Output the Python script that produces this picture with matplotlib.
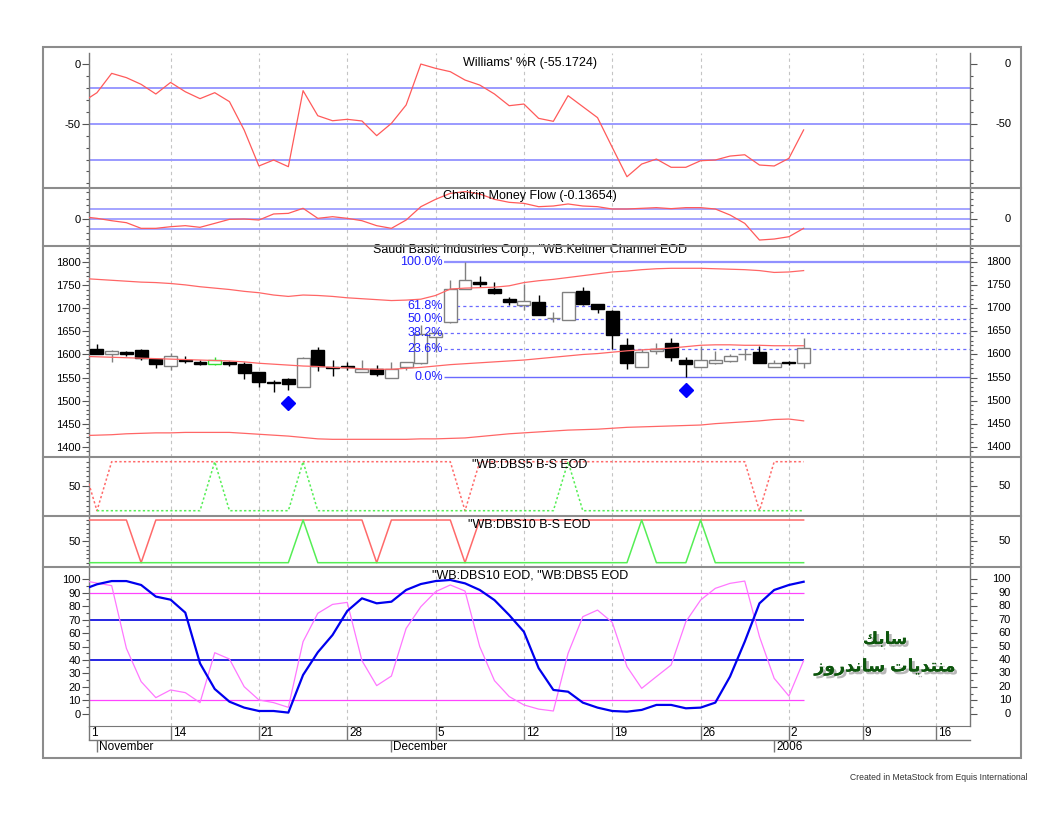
import numpy as np
import matplotlib
matplotlib.use('Agg')
import matplotlib.pyplot as plt
import matplotlib.patheffects as pe
from matplotlib.lines import Line2D
from matplotlib.patches import Rectangle

plt.rcParams['font.family'] = ['Liberation Sans', 'DejaVu Sans']
plt.rcParams['axes.unicode_minus'] = False

# x = trading-day index, 0 = 1 Nov 2005 ... 48 = 3 Jan 2006
# indicator series also carry the day before the first bar (-1)
ind_x = np.arange(-1, 49)
bar_x = np.arange(0, 49)

day_pos = [-0.52, 5, 11, 17, 23, 29, 35, 41, 47, 52, 57]
day_labels = ['1', '14', '21', '28', '5', '12', '19', '26', '2', '9', '16']
month_pos = [0, 20, 46]
month_labels = ['November', 'December', '2006']

# Williams' %R
willr = [-32, -24.0, -7.8, -11.4, -17.0, -25.1, -15.4, -23.2, -29.0, -24.0,
         -31.5, -55.3, -85.4, -80.4, -86.0, -22.3, -43.3, -47.5, -46.3, -47.7,
         -60.0, -49.7, -34.3, 0.0, -3.6, -6.4, -13.4, -17.6, -25.1, -34.9,
         -33.5, -45.5, -48.0, -26.5, -35.7, -44.9, -69.8, -94.4, -83.8, -79.6,
         -86.5, -86.5, -81.0, -80.4, -77.1, -76.0, -84.6, -85.4, -79.0, -55.2]
willr_levels = [-20, -50, -80]

# Chaikin Money Flow
cmf = [0.034, 0.010, -0.025, -0.054, -0.137, -0.137, -0.113, -0.098, -0.122, -0.064,
       -0.005, 0.0, -0.015, 0.074, 0.083, 0.157, 0.010, 0.034, 0.010, -0.025,
       -0.098, -0.137, -0.015, 0.181, 0.289, 0.377, 0.402, 0.368, 0.289, 0.245,
       0.230, 0.181, 0.191, 0.221, 0.191, 0.181, 0.147, 0.147, 0.157, 0.167,
       0.152, 0.167, 0.167, 0.147, 0.059, -0.064, -0.309, -0.294, -0.260, -0.137]
cmf_levels = [0.15, 0.0, -0.15]

# prices
opens = [1613, 1601, 1606, 1609, 1590, 1575, 1589, 1584, 1579, 1584,
         1579, 1561, 1540, 1546, 1530, 1610, 1572, 1576, 1563, 1568,
         1550, 1572, 1581, 1638, 1670, 1743, 1758, 1743, 1720, 1707,
         1714, 1679.5, 1675, 1738, 1709, 1695, 1620, 1573, 1608, 1624,
         1589, 1572, 1581, 1586, 1600, 1605, 1572, 1583, 1581]
highs = [1622, 1609, 1608, 1613, 1591, 1604, 1597, 1589, 1594, 1586,
         1583, 1563, 1545, 1550, 1595, 1617, 1589, 1584, 1587, 1577,
         1584, 1584, 1664, 1650, 1762, 1801, 1771, 1758, 1724, 1754,
         1730, 1693, 1735, 1746, 1710, 1696, 1636, 1613, 1624, 1635,
         1595, 1619, 1607, 1601, 1611, 1619, 1587, 1586, 1635]
lows = [1601, 1583, 1597, 1587, 1570, 1566, 1581, 1577, 1577, 1575,
        1547, 1530, 1519, 1523, 1529, 1564, 1554, 1566, 1563, 1553,
        1550, 1566, 1580, 1606, 1668, 1743, 1746, 1732, 1707, 1696,
        1685, 1671, 1674, 1707, 1691, 1611, 1568, 1573, 1600, 1586,
        1552, 1572, 1580, 1584, 1589, 1582, 1572, 1577, 1571]
closes = [1602, 1608, 1602, 1592, 1579, 1596, 1585, 1580, 1589, 1579,
          1560, 1540, 1539, 1535, 1592, 1574, 1571, 1572, 1569, 1558,
          1568, 1583, 1644, 1646, 1743, 1762, 1753, 1733, 1714, 1715,
          1686, 1680, 1735, 1709, 1698, 1642, 1581, 1606, 1611, 1595,
          1579, 1589, 1589, 1597, 1600.5, 1582, 1581, 1582, 1615]
green_bar = 8

kc_upper = [1765, 1763, 1761, 1759, 1757, 1756, 1754, 1751, 1747, 1744,
            1741, 1737, 1734, 1729, 1726, 1729, 1728, 1726, 1723, 1721,
            1719, 1717, 1718, 1720, 1728, 1742, 1744, 1745, 1746, 1749,
            1756, 1760, 1763, 1767, 1771, 1775, 1779, 1781, 1784, 1786,
            1787, 1787, 1787, 1786, 1785, 1784, 1782, 1778, 1779, 1782]
kc_mid = [1596, 1595, 1594, 1593, 1592, 1591, 1590, 1589, 1588, 1587,
          1586, 1584, 1581, 1579, 1577, 1575, 1574, 1572, 1571, 1569,
          1568, 1568, 1570, 1572, 1575, 1578, 1580, 1582, 1584, 1586,
          1588, 1591, 1594, 1597, 1600, 1602, 1605, 1608, 1610, 1612,
          1614, 1617, 1620, 1621, 1621, 1620, 1620, 1619, 1619, 1619]
kc_lower = [1424, 1425, 1426, 1428, 1429, 1430, 1430, 1431, 1431, 1431,
            1431, 1429, 1427, 1425, 1423, 1420, 1417, 1416, 1416, 1416,
            1416, 1416, 1416, 1417, 1417, 1418, 1419, 1422, 1425, 1428,
            1430, 1432, 1434, 1436, 1437, 1438, 1440, 1442, 1443, 1444,
            1445, 1446, 1447, 1450, 1452, 1454, 1456, 1459, 1460, 1456]

signal_x = [13, 40]
signal_y = [1495, 1523]

fib_labels = ['100.0%', '61.8%', '50.0%', '38.2%', '23.6%', '0.0%']
fib_levels = [1801, 1706, 1677, 1647, 1611, 1552]

# DBS5 B-S
dbs5_sell = [100, 0, 100, 100, 100, 100, 100, 100, 100, 100,
             100, 100, 100, 100, 100, 100, 100, 100, 100, 100,
             100, 100, 100, 100, 100, 100, 0, 100, 100, 100,
             100, 100, 100, 100, 100, 100, 100, 100, 100, 100,
             100, 100, 100, 100, 100, 100, 0, 100, 100, 100]
dbs5_buy = [np.nan, 0, 0, 0, 0, 0, 0, 0, 0, 100,
            0, 0, 0, 0, 0, 100, 0, 0, 0, 0,
            0, 0, 0, 0, 0, 0, 0, 0, 0, 0,
            0, 0, 0, 100, 0, 0, 0, 0, 0, 0,
            0, 0, 0, 0, 0, 0, 0, 0, 0, 0]
# DBS10 B-S
dbs10_sell = [100, 100, 100, 100, 0, 100, 100, 100, 100, 100,
              100, 100, 100, 100, 100, 100, 100, 100, 100, 100,
              0, 100, 100, 100, 100, 100, 0, 100, 100, 100,
              100, 100, 100, 100, 100, 100, 100, 100, 100, 100,
              100, 100, 100, 100, 100, 100, 100, 100, 100, 100]
dbs10_buy = [0, 0, 0, 0, 0, 0, 0, 0, 0, 0,
             0, 0, 0, 0, 0, 100, 0, 0, 0, 0,
             0, 0, 0, 0, 0, 0, 0, 0, 0, 0,
             0, 0, 0, 0, 0, 0, 0, 0, 100, 0,
             0, 0, 100, 0, 0, 0, 0, 0, 0, 0]

# DBS10 / DBS5 oscillators
dbs10 = [92, 96.1, 98.5, 98.5, 95.6, 87.0, 84.7, 75.1, 37.5, 18.5,
         9.1, 4.7, 2.2, 2.2, 1.0, 28.9, 45.7, 58.5, 76.3, 85.7,
         82.0, 83.2, 91.9, 96.3, 98.5, 99.3, 96.8, 91.9, 84.4, 73.3,
         60.9, 34, 17.8, 16.5, 8.4, 4.7, 2.2, 1.7, 3.0, 6.7,
         6.7, 4.2, 4.7, 8.4, 27.7, 53.6, 82.0, 91.9, 95.6, 98.0]
dbs5 = [99, 97, 95.1, 48.6, 24.0, 12.1, 17.8, 15.8, 8.4, 45.4,
        40.7, 20.2, 10.4, 8.4, 4.9, 53.6, 74.6, 81.2, 82.7, 39.5,
        21.0, 28.1, 63.4, 79.5, 90.6, 95.6, 91.1, 49.9, 24.7, 12.9,
        6.7, 3.6, 2.2, 44.9, 72.1, 77.0, 67.9, 35.1, 19.0, 27.7,
        36.3, 68.4, 84.4, 93.1, 96.8, 98.5, 57.3, 26.4, 13.3, 39.5]
osc_blue_levels = [70, 40]
osc_pink_levels = [90, 10]

# ---------------- layout ----------------
W, H = 1060, 816
fig = plt.figure(figsize=(W / 100, H / 100), dpi=100)
fig.patch.set_facecolor('white')

x_left, x_right = 89.3, 970.0
edges = [(53.3, 188.3), (188.3, 245.7), (245.7, 456.7),
         (456.7, 515.7), (515.7, 567.3), (567.3, 725.7)]
axes = []
for top, bot in edges:
    ax = fig.add_axes([x_left / W, 1 - bot / H, (x_right - x_left) / W, (bot - top) / H],
                      sharex=axes[0] if axes else None)
    axes.append(ax)
ax_w, ax_cmf, ax_p, ax_d5, ax_d10, ax_osc = axes

GRID = '#c4c4c4'
TICK = '#555555'
r_off = 1 + 41 / (x_right - x_left)


def style(ax, ylim, major, minor, labels, title, title_y):
    ax.set_xlim(-0.52, 59.3)
    ax.set_ylim(*ylim)
    ax.set_yticks(major)
    ax.set_yticklabels(labels)
    ax.set_yticks(minor, minor=True)
    ax.tick_params(axis='y', which='both', direction='out', left=True, right=True,
                   color=TICK, width=0.8, labelsize=8, pad=1.2)
    ax.tick_params(axis='y', which='major', length=5)
    ax.tick_params(axis='y', which='minor', length=2.5)
    ax.tick_params(axis='x', which='both', bottom=False, labelbottom=False)
    for v, s in zip(major, labels):
        ax.text(r_off, v, s, transform=ax.get_yaxis_transform(), ha='right',
                va='center', fontsize=8, clip_on=False)
    for s in ['top', 'bottom']:
        ax.spines[s].set_visible(False)
    for s in ['left', 'right']:
        ax.spines[s].set_color('#777777')
        ax.spines[s].set_linewidth(1)
    ax.set_xticks(day_pos)
    ax.grid(True, axis='x', color=GRID, lw=0.8, ls=(0, (3, 3)))
    ax.text(0.5, title_y, title, transform=ax.transAxes, ha='center', va='center',
            fontsize=9, zorder=6)


# Williams %R
style(ax_w, (-104.1, 9.0), [0, -50], np.arange(-100, 10, 10), ['0', '-50'],
      "Williams' %R (-55.1724)", 0.93)
for lv in willr_levels:
    ax_w.axhline(lv, color='#9a9aff', lw=1.4, zorder=2)
ax_w.plot(ind_x, willr, color='#ff5a5a', lw=0.9, zorder=3)

# Chaikin Money Flow
style(ax_cmf, (-0.392, 0.451), [0], np.arange(-0.3, 0.45, 0.1), ['0'],
      'Chaikin Money Flow (-0.13654)', 0.86)
for lv in cmf_levels:
    ax_cmf.axhline(lv, color='#8c8cff', lw=1.1, zorder=2)
ax_cmf.plot(ind_x, cmf, color='#ff5a5a', lw=0.9, zorder=3)

# price + Keltner + Fibonacci
style(ax_p, (1378.3, 1836), list(range(1400, 1801, 50)), np.arange(1380, 1836, 10),
      [str(v) for v in range(1400, 1801, 50)],
      'Saudi Basic Industries Corp., "WB:Keltner Channel EOD', 0.979)
o = np.array(opens, float)
c = np.array(closes, float)
up = c >= o
wick_col = ['#808080' if u else 'black' for u in up]
face = ['white' if u else 'black' for u in up]
edge = ['#808080' if u else 'black' for u in up]
edge[green_bar] = '#33dd33'
wick_col[green_bar] = '#33dd33'
ax_p.vlines(bar_x, lows, highs, colors=wick_col, lw=1, zorder=3)
ax_p.bar(bar_x, np.abs(c - o), bottom=np.minimum(o, c), width=0.88, color=face,
         edgecolor=edge, lw=1, zorder=4)
for band in (kc_upper, kc_mid, kc_lower):
    ax_p.plot(ind_x, band, color='#ff6666', lw=0.9, zorder=5)
ax_p.plot(signal_x, signal_y, ls='none', marker='D', ms=7, color='#0000ff', zorder=6)
fib_start = 23.6
for lab, lv in zip(fib_labels, fib_levels):
    if lab in ('100.0%', '0.0%'):
        ax_p.hlines(lv, fib_start, 59.3, colors='#9090ff' if lab == '100.0%' else '#6a6aff',
                    lw=1.6 if lab == '100.0%' else 1.0, zorder=2)
    else:
        ax_p.hlines(lv, fib_start, 59.3, colors='#6a6aff', lw=0.9,
                    linestyles=(0, (2.5, 2.5)), zorder=2)
    ax_p.text(fib_start - 0.1, lv, lab, ha='right', va='center', fontsize=9,
              color='#2020ff', zorder=7)

# DBS5 B-S
style(ax_d5, (-10.2, 110.2), [50], np.arange(0, 101, 10), ['50'], '"WB:DBS5 B-S EOD', 0.859)
ax_d5.plot(ind_x, dbs5_sell, color='#ff6a6a', lw=1.1, ls=(0, (1.5, 1.5)), zorder=3)
ax_d5.plot(ind_x, dbs5_buy, color='#55ee55', lw=1.1, ls=(0, (1.5, 1.5)), zorder=3)

# DBS10 B-S
style(ax_d10, (-10.8, 110.1), [50], np.arange(0, 101, 10), ['50'], '"WB:DBS10 B-S EOD', 0.82)
ax_d10.plot(ind_x, dbs10_sell, color='#ff6a6a', lw=1.1, zorder=3)
ax_d10.plot(ind_x, dbs10_buy, color='#55ee55', lw=1.1, zorder=3)

# DBS10 / DBS5 oscillators
style(ax_osc, (-8.7, 108.7), list(range(0, 101, 10)), np.arange(0, 101, 5),
      [str(v) for v in range(0, 101, 10)], '"WB:DBS10 EOD, "WB:DBS5 EOD', 0.951)
ax_osc.hlines(osc_pink_levels, ind_x[0], ind_x[-1], colors='#ff44ff', lw=0.9, zorder=2)
ax_osc.hlines(osc_blue_levels, ind_x[0], ind_x[-1], colors='#0000dd', lw=1.2, zorder=2)
ax_osc.plot(ind_x, dbs5, color='#ff77ff', lw=0.9, zorder=3)
ax_osc.plot(ind_x, dbs10, color='#0000ee', lw=1.6, zorder=4)

# date axis (bottom panel only)
ax_osc.spines['bottom'].set_visible(True)
ax_osc.spines['bottom'].set_color('#777777')
ax_osc.tick_params(axis='x', which='major', bottom=True, length=10.3, direction='out',
                   color='#777777', width=1)
row1 = 14.3 / (725.7 - 567.3)
row2 = 26.3 / (725.7 - 567.3)
for p, s in zip(day_pos, day_labels):
    ax_osc.annotate(s, (p, 0), xycoords=('data', 'axes fraction'), xytext=(2, -7.2),
                    textcoords='offset pixels', ha='left', va='center', fontsize=8.5)
ax_osc.plot([0, 1], [-row1, -row1], transform=ax_osc.transAxes, color='#777777',
            lw=1, clip_on=False)
ax_osc.vlines(month_pos, -row2, -row1, transform=ax_osc.get_xaxis_transform(),
              colors='#777777', lw=1, clip_on=False)
for p, s in zip(month_pos, month_labels):
    ax_osc.annotate(s, (p, 0), xycoords=('data', 'axes fraction'), xytext=(2, -21),
                    textcoords='offset pixels', ha='left', va='center', fontsize=8.5)

# outer frame and panel separators
fig.add_artist(Rectangle((42.7 / W, 1 - 758.3 / H), 978 / W, 711.6 / H,
                         transform=fig.transFigure, fill=False, ec='#8c8c8c', lw=1.5))
for y in [188.3, 245.7, 456.7, 515.7, 567.3]:
    fig.add_artist(Line2D([42.7 / W, 1020.7 / W], [1 - y / H, 1 - y / H],
                          transform=fig.transFigure, color='#8c8c8c', lw=1.5))

# watermark
shadow = [pe.withSimplePatchShadow(offset=(2, -2), shadow_rgbFace='#888888', alpha=0.6),
          pe.Normal()]
fig.text(885 / W, 1 - 639 / H, '\uFEDA\uFE91\uFE8E\uFEB3', ha='center', va='center',
         fontsize=12, fontweight='bold', color='#0d560d', path_effects=shadow)
fig.text(885 / W, 1 - 667 / H,
         '\uFEAF\uFEED\uFEAD\uFEAA\uFEE7\uFE8E\uFEB3 \uFE95\uFE8E\uFEF3\uFEAA\uFE98\uFEE8\uFEE3',
         ha='center', va='center', fontsize=12.5, fontweight='bold', color='#0d560d',
         path_effects=shadow)

fig.text(1028 / W, 1 - 778 / H, 'Created in MetaStock from Equis International',
         ha='right', va='center', fontsize=6.2, color='#333333')

fig.savefig('out.png', dpi=100, facecolor='white')
